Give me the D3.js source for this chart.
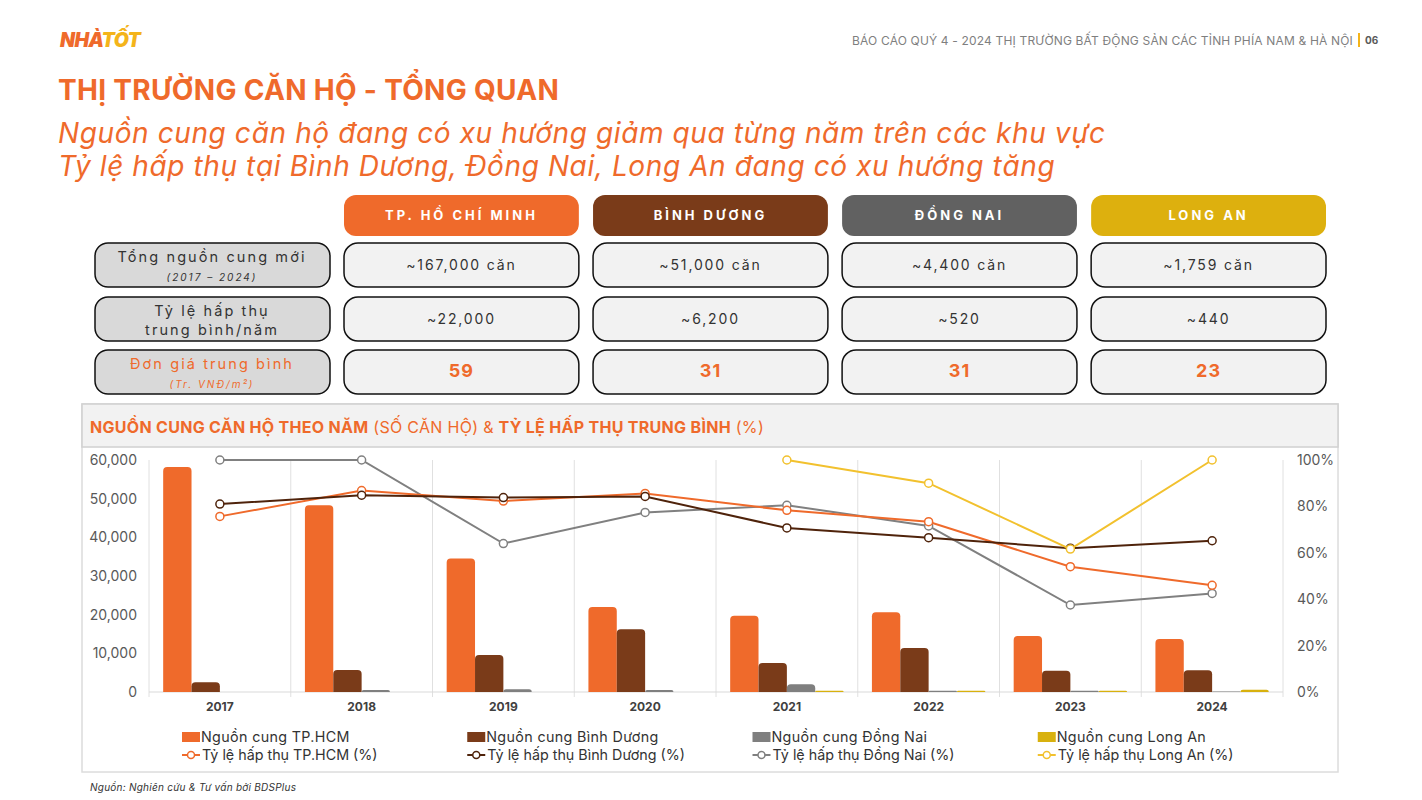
<!DOCTYPE html>
<html>
<head>
<meta charset="utf-8">
<script src="https://cdn.jsdelivr.net/npm/d3@7"></script>
<style>
  body { margin: 0; background: #fff; }
  svg { font-family: Inter, "Noto Sans", sans-serif; }
</style>
</head>
<body>
<svg id="page" width="1422" height="800"></svg>
<script>
// dữ liệu
const years = ["2017", "2018", "2019", "2020", "2021", "2022", "2023", "2024"];
const supplyHCM = [58200, 48300, 34500, 22000, 19700, 20600, 14500, 13700];
const supplyBD = [2500, 5700, 9600, 16200, 7500, 11400, 5500, 5600];
const supplyDN = [0, 500, 700, 500, 2000, 300, 300, 150];
const supplyLA = [0, 0, 0, 0, 300, 300, 350, 600];
const rateHCM = [75.7, 86.8, 82.3, 85.6, 78.3, 73.4, 54, 46];
const rateBD = [81, 84.8, 83.8, 84.3, 70.7, 66.5, 62, 65.2];
const rateDN = [100, 100, 64, 77.4, 80.5, 71.6, 37.5, 42.5];
const rateLA = [null, null, null, null, 100, 90, 61.6, 100];
const supplyNames = ["Nguồn cung TP.HCM", "Nguồn cung Bình Dương", "Nguồn cung Đồng Nai", "Nguồn cung Long An"];
const rateNames = ["Tỷ lệ hấp thụ TP.HCM (%)", "Tỷ lệ hấp thụ Bình Dương (%)", "Tỷ lệ hấp thụ Đồng Nai (%)", "Tỷ lệ hấp thụ Long An (%)"];
const leftTicks = [0, 10000, 20000, 30000, 40000, 50000, 60000];
const rightTicks = [0, 20, 40, 60, 80, 100];

// bảng tổng quan
const regions = ["TP. HỒ CHÍ MINH", "BÌNH DƯƠNG", "ĐỒNG NAI", "LONG AN"];
const totalSupply = ["~167,000 căn", "~51,000 căn", "~4,400 căn", "~1,759 căn"];
const avgAbsorb = ["~22,000", "~6,200", "~520", "~440"];
const avgPrice = ["59", "31", "31", "23"];

const ORANGE = "#ef6a2b";
const barColors = ["#ef6a2b", "#7a3b19", "#7f7f7f", "#d8b10e"];
const lineColors = ["#ef6a2b", "#4f230b", "#808080", "#f2c12e"];
const headColors = ["#ef6a2b", "#7a3b19", "#616161", "#ddb00e"];

const svg = d3.select("#page");

// ---- header ----
const logo = svg.append("text").attr("x", 60).attr("y", 47)
  .attr("font-size", 19.5).attr("font-weight", 900).attr("font-style", "italic")
  .attr("letter-spacing", -0.6);
logo.append("tspan").attr("fill", ORANGE).text("NHÀ");
logo.append("tspan").attr("fill", "#f4b41a").text("TỐT");

svg.append("text").attr("x", 1353).attr("y", 45).attr("text-anchor", "end")
  .attr("font-size", 12).attr("fill", "#7f7f7f").attr("letter-spacing", 0.17)
  .text("BÁO CÁO QUÝ 4 - 2024 THỊ TRƯỜNG BẤT ĐỘNG SẢN CÁC TỈNH PHÍA NAM & HÀ NỘI");
svg.append("rect").attr("x", 1358).attr("y", 33).attr("width", 2).attr("height", 14).attr("fill", "#f4b41a");
svg.append("text").attr("x", 1365).attr("y", 44).attr("font-size", 10).attr("font-weight", 700)
  .attr("fill", "#595959").text("06");

svg.append("text").attr("x", 58).attr("y", 100).attr("font-size", 28).attr("font-weight", 700)
  .attr("fill", ORANGE).attr("letter-spacing", 0.3).text("THỊ TRƯỜNG CĂN HỘ - TỔNG QUAN");
svg.append("text").attr("x", 58).attr("y", 143).attr("font-size", 28).attr("font-style", "italic")
  .attr("fill", ORANGE).attr("letter-spacing", 0.6)
  .text("Nguồn cung căn hộ đang có xu hướng giảm qua từng năm trên các khu vực");
svg.append("text").attr("x", 58).attr("y", 176).attr("font-size", 28).attr("font-style", "italic")
  .attr("fill", ORANGE).attr("letter-spacing", 0.6)
  .text("Tỷ lệ hấp thụ tại Bình Dương, Đồng Nai, Long An đang có xu hướng tăng");

// ---- table ----
const colX = d3.scaleBand().domain(regions).range([344, 1326]).paddingInner(0.057);
const table = svg.append("g");

table.selectAll("g.head").data(regions).join("g").attr("class", "head")
  .each(function (d, i) {
    const g = d3.select(this);
    g.append("rect").attr("x", colX(d)).attr("y", 195).attr("width", colX.bandwidth()).attr("height", 41)
      .attr("rx", 12).attr("fill", headColors[i]);
    g.append("text").attr("x", colX(d) + colX.bandwidth() / 2).attr("y", 220)
      .attr("text-anchor", "middle").attr("fill", "#fff").attr("font-size", 13).attr("font-weight", 700)
      .attr("letter-spacing", 3).text(d);
  });

const rows = [
  { label: ["Tổng nguồn cung mới", "(2017 – 2024)"], values: totalSupply, y: 243, accent: false },
  { label: ["Tỷ lệ hấp thụ", "trung bình/năm"], values: avgAbsorb, y: 297, accent: false },
  { label: ["Đơn giá trung bình", "(Tr. VNĐ/m²)"], values: avgPrice, y: 350, accent: true }
];
rows.forEach((r, ri) => {
  table.append("rect").attr("x", 95).attr("y", r.y).attr("width", 235).attr("height", 44)
    .attr("rx", 13).attr("fill", "#d9d9d9").attr("stroke", "#111").attr("stroke-width", 1.5);
  const small = ri !== 1;
  table.append("text").attr("x", 212).attr("y", r.y + 19).attr("text-anchor", "middle")
    .attr("font-size", 14.5).attr("letter-spacing", 2.1).attr("fill", r.accent ? ORANGE : "#333")
    .text(r.label[0]);
  table.append("text").attr("x", 212).attr("y", r.y + 38).attr("text-anchor", "middle")
    .attr("font-size", small ? 10 : 14.5).attr("font-style", small ? "italic" : "normal")
    .attr("letter-spacing", small ? 2 : 2.1).attr("fill", r.accent ? ORANGE : "#333")
    .text(r.label[1]);
  table.selectAll(null).data(r.values).join("g").each(function (v, i) {
    const g = d3.select(this);
    const x = colX(regions[i]);
    g.append("rect").attr("x", x).attr("y", r.y).attr("width", colX.bandwidth()).attr("height", 44)
      .attr("rx", 14).attr("fill", "#f2f2f2").attr("stroke", "#111").attr("stroke-width", 1.5);
    g.append("text").attr("x", x + colX.bandwidth() / 2).attr("y", r.y + 27)
      .attr("text-anchor", "middle")
      .attr("font-size", r.accent ? 18 : 14).attr("font-weight", r.accent ? 700 : 400)
      .attr("letter-spacing", r.accent ? 1 : 1.85)
      .attr("fill", r.accent ? ORANGE : "#333").text(v);
  });
});

// ---- chart panel ----
svg.append("rect").attr("x", 82).attr("y", 404).attr("width", 1256).attr("height", 368)
  .attr("fill", "#fff").attr("stroke", "#dcdcdc").attr("stroke-width", 1.5);
svg.append("rect").attr("x", 82).attr("y", 404).attr("width", 1256).attr("height", 43)
  .attr("fill", "#f2f2f2").attr("stroke", "#d0d0d0").attr("stroke-width", 1.5);
const ttl = svg.append("text").attr("x", 90).attr("y", 433).attr("font-size", 16).attr("fill", ORANGE)
  .attr("letter-spacing", 0.3);
ttl.append("tspan").attr("font-weight", 700).text("NGUỒN CUNG CĂN HỘ THEO NĂM");
ttl.append("tspan").text(" (SỐ CĂN HỘ) & ");
ttl.append("tspan").attr("font-weight", 700).text("TỶ LỆ HẤP THỤ TRUNG BÌNH");
ttl.append("tspan").text(" (%)");

const x = d3.scaleBand().domain(years).range([149, 1283]);
const xSub = d3.scaleBand().domain(d3.range(4)).range([0, x.bandwidth()]).paddingOuter(0.5);
const y = d3.scaleLinear().domain([0, 60000]).range([692, 460]);
const yR = d3.scaleLinear().domain([0, 100]).range([692, 460]);

const chart = svg.append("g");

// đường chia nhóm năm
chart.selectAll("line.sep").data(d3.range(years.length + 1)).join("line")
  .attr("x1", i => x.range()[0] + i * x.step()).attr("x2", i => x.range()[0] + i * x.step())
  .attr("y1", 460).attr("y2", 697).attr("stroke", "#e0e0e0");
chart.append("line").attr("x1", 149).attr("x2", 1283).attr("y1", 692).attr("y2", 692).attr("stroke", "#d9d9d9");

// trục
const axL = chart.append("g").attr("transform", "translate(137,0)")
  .call(d3.axisLeft(y).tickValues(leftTicks).tickSize(0).tickPadding(0).tickFormat(d3.format(",")));
const axR = chart.append("g").attr("transform", "translate(1297,0)")
  .call(d3.axisRight(yR).tickValues(rightTicks).tickSize(0).tickPadding(0).tickFormat(d => d + "%"));
const axB = chart.append("g").attr("transform", "translate(0,692)")
  .call(d3.axisBottom(x).tickSize(0).tickPadding(10));
[axL, axR, axB].forEach(a => a.select(".domain").remove());
[axL, axR].forEach(a => a.selectAll("text").attr("font-size", 14).attr("fill", "#595959")
  .attr("font-family", "Inter, sans-serif"));
axB.selectAll("text").attr("font-size", 12).attr("font-weight", 700).attr("fill", "#404040")
  .attr("font-family", "Inter, sans-serif");

// cột
const supplies = [supplyHCM, supplyBD, supplyDN, supplyLA];
function topRounded(x0, y0, w, h, r) {
  r = Math.min(r, w / 2, h);
  return `M${x0},${y0 + h}V${y0 + r}Q${x0},${y0} ${x0 + r},${y0}H${x0 + w - r}Q${x0 + w},${y0} ${x0 + w},${y0 + r}V${y0 + h}Z`;
}
supplies.forEach((s, si) => {
  chart.append("g").selectAll("path").data(years.map((yr, i) => ({ yr, v: s[i] })).filter(d => d.v > 0))
    .join("path")
    .attr("d", d => topRounded(x(d.yr) + xSub(si), y(d.v), xSub.bandwidth(), y(0) - y(d.v), 4))
    .attr("fill", barColors[si]);
});

// đường tỷ lệ
const rates = [rateHCM, rateBD, rateDN, rateLA];
const drawOrder = [2, 0, 1, 3];
drawOrder.forEach(ri => {
  const pts = years.map((yr, i) => ({ yr, v: rates[ri][i] })).filter(d => d.v != null);
  const line = d3.line().x(d => x(d.yr) + x.bandwidth() / 2).y(d => yR(d.v));
  chart.append("path").datum(pts).attr("d", line).attr("fill", "none")
    .attr("stroke", lineColors[ri]).attr("stroke-width", 2);
  chart.append("g").selectAll("circle").data(pts).join("circle")
    .attr("cx", d => x(d.yr) + x.bandwidth() / 2).attr("cy", d => yR(d.v)).attr("r", 4)
    .attr("fill", "#fff").attr("stroke", lineColors[ri]).attr("stroke-width", 1.5);
});

// chú thích
const legX = d3.scaleBand().domain(d3.range(4)).range([182, 1323]);
const leg = svg.append("g").attr("font-size", 14.3).attr("fill", "#333");
supplyNames.forEach((n, i) => {
  leg.append("rect").attr("x", legX(i)).attr("y", 732).attr("width", 18).attr("height", 10).attr("fill", barColors[i]);
  leg.append("text").attr("x", legX(i) + 19).attr("y", 742).attr("letter-spacing", 0.35).text(n);
});
rateNames.forEach((n, i) => {
  leg.append("line").attr("x1", legX(i)).attr("x2", legX(i) + 18).attr("y1", 755).attr("y2", 755)
    .attr("stroke", lineColors[i]).attr("stroke-width", 2);
  leg.append("circle").attr("cx", legX(i) + 9).attr("cy", 755).attr("r", 3.5)
    .attr("fill", "#fff").attr("stroke", lineColors[i]).attr("stroke-width", 1.5);
  leg.append("text").attr("x", legX(i) + 20).attr("y", 760).text(n);
});

svg.append("text").attr("x", 90).attr("y", 791).attr("font-size", 10).attr("font-style", "italic")
  .attr("fill", "#333").attr("letter-spacing", 0.25).text("Nguồn: Nghiên cứu & Tư vấn bởi BDSPlus");
</script>
</body>
</html>
